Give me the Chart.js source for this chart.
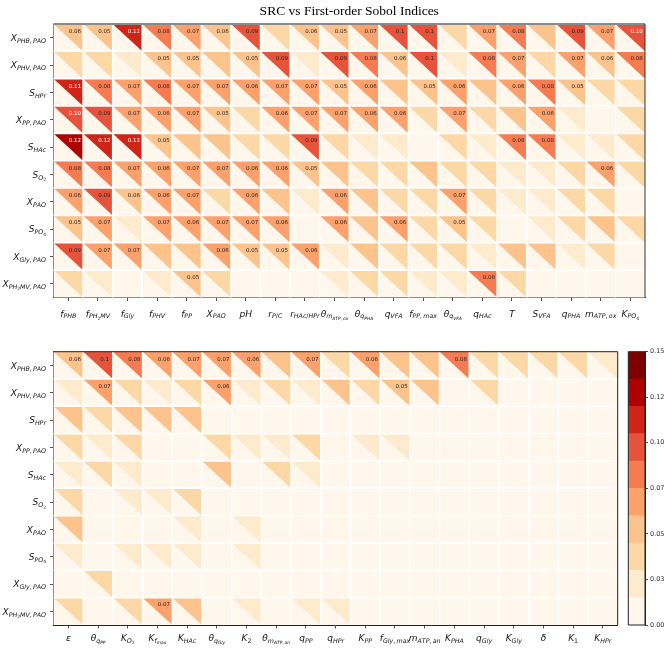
<!DOCTYPE html>
<html><head><meta charset="utf-8">
<script src="https://cdn.jsdelivr.net/npm/chart.js@4.4.1/dist/chart.umd.min.js"></script>
<style>
html,body{margin:0;padding:0;background:#fff;}
body{width:669px;height:649px;position:relative;overflow:hidden;}
canvas{position:absolute;}
</style></head>
<body>
<canvas id="cTop" width="669" height="330" style="left:0;top:0"></canvas>
<canvas id="cBot" width="669" height="319" style="left:0;top:330px"></canvas>
<canvas id="cBar" width="69" height="319" style="left:600px;top:330px"></canvas>
<script>
// ---------------- DATA ----------------
const TITLE = 'SRC vs First-order Sobol Indices';
const ROWS = ['X_{PHB, PAO}','X_{PHV, PAO}','S_{HPr}','X_{PP, PAO}','S_{HAc}','S_{O_2}','X_{PAO}','S_{PO_4}','X_{Gly, PAO}','X_{PH_2MV, PAO}'];
const TOP_COLS = ['f_{PHB}','f_{PH_2MV}','f_{Gly}','f_{PHV}','f_{PP}','X_{PAO}','pH','r_{P/C}','r_{HAc/HPr}','θ_{m_{ATP, ox}}','θ_{q_{PHA}}','q_{VFA}','f_{PP, max}','θ_{q_{VFA}}','q_{HAc}','T','S_{VFA}','q_{PHA}','m_{ATP, ox}','K_{PO_4}'];
const BOT_COLS = ['ε','θ_{q_{PP}}','K_{O_2}','K_{f_{max}}','K_{HAc}','θ_{q_{Gly}}','K_2','θ_{m_{ATP, an}}','q_{PP}','q_{HPr}','K_{PP}','f_{Gly, max}','m_{ATP, an}','K_{PHA}','q_{Gly}','K_{Gly}','δ','K_1','K_{HPr}'];

// SRC (upper-right triangles), one row per output variable
const TOP_SRC = [
 [0.058,0.052,0.118,0.082,0.072,0.058,0.092,0.038,0.058,0.052,0.072,0.098,0.098,0.042,0.070,0.082,0.046,0.092,0.070,0.101],
 [0.035,0.035,0.022,0.052,0.052,0.045,0.052,0.092,0.020,0.094,0.080,0.058,0.098,0.020,0.080,0.070,0.035,0.070,0.058,0.080],
 [0.110,0.080,0.070,0.080,0.072,0.070,0.060,0.070,0.070,0.052,0.060,0.046,0.052,0.060,0.045,0.060,0.080,0.052,0.040,0.040],
 [0.101,0.094,0.070,0.062,0.070,0.052,0.035,0.060,0.070,0.070,0.060,0.060,0.030,0.070,0.035,0.045,0.062,0.025,0.010,0.035],
 [0.124,0.119,0.119,0.052,0.045,0.045,0.030,0.042,0.092,0.030,0.015,0.025,0.012,0.035,0.020,0.082,0.082,0.025,0.025,0.035],
 [0.082,0.080,0.070,0.060,0.070,0.070,0.060,0.060,0.052,0.045,0.030,0.035,0.045,0.035,0.040,0.025,0.025,0.035,0.060,0.030],
 [0.060,0.092,0.058,0.060,0.065,0.035,0.060,0.045,0.020,0.060,0.045,0.035,0.040,0.065,0.040,0.015,0.025,0.040,0.035,0.010],
 [0.052,0.070,0.025,0.065,0.062,0.070,0.070,0.062,0.010,0.060,0.045,0.060,0.035,0.054,0.035,0.012,0.025,0.035,0.045,0.030],
 [0.090,0.070,0.070,0.045,0.045,0.060,0.052,0.052,0.060,0.025,0.045,0.035,0.030,0.042,0.025,0.045,0.048,0.025,0.040,0.010],
 [0.040,0.025,0.010,0.020,0.052,0.040,0.010,0.010,0.010,0.015,0.040,0.042,0.025,0.025,0.082,0.035,0.010,0.010,0.010,0.010]
];
// First-order Sobol indices (lower-left triangles)
const TOP_SOBOL = [
 [0.004,0.003,0.006,0.005,0.004,0.003,0.007,0.012,0.004,0.003,0.005,0.008,0.009,0.011,0.006,0.007,0.010,0.008,0.005,0.009],
 [0.003,0.004,0.013,0.003,0.004,0.005,0.003,0.007,0.010,0.008,0.006,0.004,0.009,0.013,0.007,0.006,0.005,0.006,0.004,0.007],
 [0.010,0.006,0.005,0.007,0.006,0.005,0.004,0.005,0.006,0.003,0.004,0.005,0.003,0.004,0.006,0.004,0.007,0.003,0.005,0.006],
 [0.009,0.008,0.005,0.004,0.005,0.003,0.006,0.004,0.005,0.005,0.004,0.004,0.008,0.005,0.006,0.005,0.004,0.012,0.006,0.005],
 [0.011,0.010,0.010,0.003,0.005,0.005,0.006,0.004,0.008,0.006,0.007,0.005,0.008,0.004,0.009,0.007,0.007,0.010,0.009,0.006],
 [0.007,0.007,0.006,0.005,0.006,0.006,0.005,0.005,0.004,0.005,0.008,0.006,0.004,0.006,0.005,0.009,0.008,0.006,0.005,0.007],
 [0.005,0.008,0.005,0.005,0.005,0.006,0.005,0.004,0.009,0.005,0.004,0.006,0.005,0.005,0.006,0.010,0.008,0.005,0.006,0.009],
 [0.004,0.006,0.013,0.005,0.005,0.006,0.006,0.005,0.010,0.005,0.004,0.005,0.006,0.004,0.006,0.010,0.008,0.006,0.004,0.007],
 [0.008,0.006,0.006,0.004,0.004,0.005,0.004,0.004,0.005,0.008,0.004,0.006,0.007,0.004,0.008,0.004,0.004,0.008,0.005,0.010],
 [0.004,0.006,0.010,0.009,0.004,0.005,0.010,0.010,0.011,0.009,0.005,0.004,0.008,0.008,0.007,0.005,0.010,0.011,0.010,0.011]
];
const BOT_SRC = [
 [0.058,0.0995,0.084,0.060,0.072,0.072,0.060,0.045,0.072,0.042,0.062,0.045,0.045,0.084,0.040,0.042,0.032,0.035,0.020],
 [0.020,0.074,0.035,0.028,0.040,0.062,0.028,0.040,0.015,0.045,0.040,0.052,0.045,0.010,0.042,0.008,0.006,0.006,0.005],
 [0.045,0.035,0.045,0.045,0.045,0.008,0.006,0.006,0.005,0.005,0.004,0.004,0.005,0.004,0.004,0.003,0.004,0.003,0.003],
 [0.040,0.025,0.035,0.010,0.012,0.035,0.025,0.025,0.035,0.012,0.022,0.022,0.006,0.005,0.004,0.004,0.003,0.004,0.003],
 [0.025,0.040,0.020,0.010,0.010,0.045,0.010,0.032,0.020,0.008,0.006,0.005,0.004,0.005,0.004,0.004,0.003,0.003,0.004],
 [0.040,0.008,0.022,0.025,0.042,0.006,0.008,0.006,0.005,0.005,0.004,0.004,0.003,0.004,0.004,0.003,0.003,0.004,0.003],
 [0.045,0.010,0.012,0.010,0.025,0.008,0.025,0.006,0.005,0.004,0.004,0.003,0.004,0.003,0.004,0.003,0.004,0.003,0.003],
 [0.025,0.008,0.020,0.018,0.025,0.006,0.025,0.005,0.005,0.004,0.003,0.004,0.003,0.004,0.003,0.003,0.004,0.003,0.003],
 [0.012,0.040,0.008,0.006,0.008,0.005,0.006,0.005,0.004,0.004,0.003,0.003,0.004,0.003,0.003,0.004,0.003,0.003,0.004],
 [0.040,0.010,0.040,0.074,0.045,0.008,0.025,0.008,0.025,0.025,0.006,0.005,0.004,0.004,0.003,0.004,0.003,0.003,0.004]
];
const BOT_SOBOL = [
 [0.004,0.006,0.005,0.004,0.005,0.005,0.004,0.003,0.005,0.004,0.004,0.003,0.003,0.006,0.003,0.003,0.002,0.003,0.002],
 [0.003,0.005,0.003,0.003,0.003,0.004,0.003,0.003,0.002,0.003,0.003,0.004,0.003,0.002,0.003,0.002,0.002,0.002,0.002],
 [0.004,0.003,0.004,0.004,0.004,0.002,0.002,0.002,0.002,0.002,0.002,0.002,0.002,0.002,0.002,0.002,0.002,0.002,0.002],
 [0.003,0.003,0.003,0.002,0.002,0.003,0.003,0.003,0.003,0.002,0.002,0.002,0.002,0.002,0.002,0.002,0.002,0.002,0.002],
 [0.003,0.003,0.002,0.002,0.002,0.004,0.002,0.003,0.002,0.002,0.002,0.002,0.002,0.002,0.002,0.002,0.002,0.002,0.002],
 [0.003,0.002,0.002,0.003,0.003,0.002,0.002,0.002,0.002,0.002,0.002,0.002,0.002,0.002,0.002,0.002,0.002,0.002,0.002],
 [0.004,0.002,0.002,0.002,0.003,0.002,0.003,0.002,0.002,0.002,0.002,0.002,0.002,0.002,0.002,0.002,0.002,0.002,0.002],
 [0.003,0.002,0.002,0.002,0.003,0.002,0.003,0.002,0.002,0.002,0.002,0.002,0.002,0.002,0.002,0.002,0.002,0.002,0.002],
 [0.002,0.003,0.002,0.002,0.002,0.002,0.002,0.002,0.002,0.002,0.002,0.002,0.002,0.002,0.002,0.002,0.002,0.002,0.002],
 [0.003,0.002,0.003,0.005,0.003,0.002,0.003,0.002,0.003,0.003,0.002,0.002,0.002,0.002,0.002,0.002,0.002,0.002,0.002]
];
const CB_TICKS = [0, 0.025, 0.05, 0.075, 0.1, 0.125, 0.15];
const CB_TICK_LABELS = ['0.00','0.03','0.05','0.07','0.10','0.12','0.15'];
const VMIN = 0, VMAX = 0.15, NBINS = 10;
const LABEL_MIN = 0.05;

// --------------- STYLE ----------------
const PALETTE = ['#fff7ec','#feeacc','#fdd8a7','#fdc38d','#fca16c','#f67b51','#e7533a','#cf2518','#ad0000','#7f0000'];
function colorFor(v){
  const b = Math.max(0, Math.min(NBINS-1, Math.floor((v - VMIN) / ((VMAX - VMIN) / NBINS))));
  return PALETTE[b];
}
function fmt(v){ return v >= 0.1 ? v.toFixed(2) : String(Number(v.toFixed(2))); }

// --------------- mini TeX renderer -------------
function parseTex(s){
  const out = []; let i = 0;
  function rec(level, inBrace){
    while (i < s.length){
      const c = s[i];
      if (c === '}'){ i++; if (inBrace) return; continue; }
      if (c === '_'){
        i++;
        if (s[i] === '{'){ i++; rec(level+1, true); }
        else { out.push({ch: s[i], level: level+1}); i++; }
        continue;
      }
      out.push({ch: c, level}); i++;
    }
  }
  rec(0, false);
  return out;
}
function drawTex(ctx, tex, x, baseline, align, B){
  const items = parseTex(tex).map(r => {
    const sz = B * Math.pow(0.7, r.level);
    const it = /[A-Za-z\u0370-\u03ff]/.test(r.ch);
    const font = (it ? 'italic ' : '') + sz.toFixed(2) + 'px "DejaVu Sans"';
    ctx.font = font;
    let w = ctx.measureText(r.ch).width;
    if (r.ch === ' ') w *= 0.6;
    return {ch: r.ch, level: r.level, font, w};
  });
  const total = items.reduce((a, b) => a + b.w, 0);
  let cx = align === 'center' ? x - total/2 : (align === 'right' ? x - total : x);
  ctx.textAlign = 'left'; ctx.textBaseline = 'alphabetic';
  items.forEach(it => {
    ctx.font = it.font;
    let dy = 0;
    for (let k = 0; k < it.level; k++) dy += 0.22 * B * Math.pow(0.7, k);
    ctx.fillText(it.ch, cx, baseline + dy);
    cx += it.w;
  });
}

// --------------- plugins ----------------
const heatPlugin = {
  id: 'heat',
  beforeDatasetsDraw(chart){
    const ctx = chart.ctx, xs = chart.scales.x, ys = chart.scales.y, ca = chart.chartArea;
    const pts = chart.data.datasets[0].data;
    ctx.save();
    pts.forEach(p => {
      const x0 = xs.getPixelForValue(p.x - 0.5), x1 = xs.getPixelForValue(p.x + 0.5);
      const y0 = ys.getPixelForValue(p.y - 0.5), y1 = ys.getPixelForValue(p.y + 0.5);
      ctx.fillStyle = colorFor(p.sobol);
      ctx.fillRect(x0, y0, x1 - x0, y1 - y0);
      ctx.beginPath(); ctx.moveTo(x0, y0); ctx.lineTo(x1, y0); ctx.lineTo(x1, y1); ctx.closePath();
      ctx.fillStyle = colorFor(p.src); ctx.fill();
    });
    // white cell separators
    ctx.strokeStyle = '#ffffff'; ctx.lineWidth = 1.5;
    const nx = Math.round(xs.max - xs.min), ny = Math.round(ys.max - ys.min);
    for (let j = 1; j < nx; j++){
      const px = xs.getPixelForValue(j - 0.5);
      ctx.beginPath(); ctx.moveTo(px, ca.top); ctx.lineTo(px, ca.bottom); ctx.stroke();
    }
    for (let i = 1; i < ny; i++){
      const py = ys.getPixelForValue(i - 0.5);
      ctx.beginPath(); ctx.moveTo(ca.left, py); ctx.lineTo(ca.right, py); ctx.stroke();
    }
    // value labels for SRC
    ctx.font = '5.5px "DejaVu Sans"'; ctx.textAlign = 'center'; ctx.textBaseline = 'middle';
    pts.forEach(p => {
      if (p.src < LABEL_MIN) return;
      const x0 = xs.getPixelForValue(p.x - 0.5), x1 = xs.getPixelForValue(p.x + 0.5);
      const y0 = ys.getPixelForValue(p.y - 0.5), y1 = ys.getPixelForValue(p.y + 0.5);
      const w = x1 - x0, h = y1 - y0;
      ctx.fillStyle = p.src >= 0.1 ? '#ffffff' : '#262626';
      ctx.fillText(fmt(p.src), (x0 + x1)/2 + 0.22*w, (y0 + y1)/2 - 0.23*h);
    });
    ctx.restore();
  }
};
const framePlugin = {
  id: 'frame',
  afterDraw(chart, args, opts){
    const ctx = chart.ctx, ca = chart.chartArea;
    ctx.save();
    ctx.lineWidth = opts.topWidth || 1; ctx.strokeStyle = opts.topColor || '#222';
    ctx.beginPath(); ctx.moveTo(ca.left, ca.top); ctx.lineTo(ca.right, ca.top); ctx.stroke();
    ctx.lineWidth = 1; ctx.strokeStyle = opts.rightColor || '#222';
    ctx.beginPath(); ctx.moveTo(ca.right, ca.top); ctx.lineTo(ca.right, ca.bottom); ctx.stroke();
    if (opts.all){
      ctx.beginPath(); ctx.moveTo(ca.left, ca.top); ctx.lineTo(ca.left, ca.bottom); ctx.lineTo(ca.right, ca.bottom); ctx.stroke();
    }
    ctx.restore();
  }
};
const mathLabelsPlugin = {
  id: 'mathLabels',
  afterDraw(chart, args, opts){
    if (!opts || !opts.x) return;
    const ctx = chart.ctx, xs = chart.scales.x, ys = chart.scales.y, ca = chart.chartArea;
    ctx.save(); ctx.fillStyle = '#111';
    opts.x.forEach((lab, j) => drawTex(ctx, lab, xs.getPixelForValue(j), ca.bottom + opts.xOff, 'center', opts.size));
    opts.y.forEach((lab, i) => drawTex(ctx, lab, ca.left - opts.yPad, ys.getPixelForValue(i) + opts.size*0.36, 'right', opts.size));
    if (opts.title){
      ctx.font = '13.5px "Liberation Serif", "Times New Roman", serif';
      ctx.fillStyle = '#000'; ctx.textAlign = 'center'; ctx.textBaseline = 'middle';
      ctx.fillText(opts.title, (ca.left + ca.right)/2, ca.top - 13);
    }
    ctx.restore();
  }
};

function buildPoints(src, sobol){
  const pts = [];
  src.forEach((row, i) => row.forEach((v, j) => pts.push({x: j, y: i, src: v, sobol: sobol[i][j]})));
  return pts;
}

function heatConfig(cols, src, sobol, opt){
  const n = cols.length;
  return {
    type: 'scatter',
    data: { datasets: [{ data: buildPoints(src, sobol), pointRadius: 0, pointHoverRadius: 0 }] },
    options: {
      responsive: false, animation: false, devicePixelRatio: 1,
      layout: { padding: { left: 0, right: opt.padRight, top: opt.padTop, bottom: 0 } },
      plugins: {
        legend: { display: false }, tooltip: { enabled: false }, title: { display: false },
        frame: { topColor: opt.topColor, topWidth: opt.topWidth, rightColor: opt.rightColor },
        mathLabels: { x: cols, y: ROWS, xOff: opt.xOff, yPad: 7.5, size: 9, title: opt.title ? TITLE : null }
      },
      scales: {
        x: { type: 'linear', min: -0.5, max: n - 0.5,
             afterBuildTicks: s => { s.ticks = cols.map((_, j) => ({ value: j })); },
             afterFit: s => { s.height = opt.xHeight; },
             ticks: { display: false },
             grid: { display: true, drawOnChartArea: false, drawTicks: true, tickLength: 3.5, color: '#222', lineWidth: 0.8 },
             border: { display: true, color: '#222', width: 1 } },
        y: { type: 'linear', min: -0.5, max: ROWS.length - 0.5, reverse: true,
             afterBuildTicks: s => { s.ticks = ROWS.map((_, i) => ({ value: i })); },
             afterFit: s => { s.width = 53.5; },
             ticks: { display: false },
             grid: { display: true, drawOnChartArea: false, drawTicks: true, tickLength: 3.5, color: '#222', lineWidth: 0.8 },
             border: { display: true, color: '#222', width: 1 } }
      }
    },
    plugins: [heatPlugin, framePlugin, mathLabelsPlugin]
  };
}

new Chart(document.getElementById('cTop'), heatConfig(TOP_COLS, TOP_SRC, TOP_SOBOL,
  { title: true, padTop: 24, padRight: 24, xHeight: 32.5, xOff: 19, topColor: '#8a8a8a', topWidth: 2, rightColor: '#333' }));
new Chart(document.getElementById('cBot'), heatConfig(BOT_COLS, BOT_SRC, BOT_SOBOL,
  { title: false, padTop: 21.7, padRight: 51.3, xHeight: 24, xOff: 16, topColor: '#222', topWidth: 1, rightColor: '#222' }));

// ---------------- colorbar ----------------
const binWidth = (VMAX - VMIN) / NBINS;
new Chart(document.getElementById('cBar'), {
  type: 'bar',
  data: { labels: ['cb'], datasets: PALETTE.map(c => ({ data: [binWidth], backgroundColor: c, borderWidth: 0, barPercentage: 1, categoryPercentage: 1 })) },
  options: {
    responsive: false, animation: false, devicePixelRatio: 1,
    layout: { padding: { left: 28.3, right: 0, top: 21.7, bottom: 24 } },
    plugins: { legend: { display: false }, tooltip: { enabled: false }, frame: { all: true, topColor: '#222', rightColor: '#222' } },
    scales: {
      x: { display: false, stacked: true },
      y: { position: 'right', stacked: true, min: VMIN, max: VMAX,
           afterBuildTicks: s => { s.ticks = CB_TICKS.map(v => ({ value: v })); },
           afterFit: s => { s.width = 24; },
           ticks: { color: '#333', font: { family: '"DejaVu Sans"', size: 6.5 }, padding: 2,
                    callback: (v, i) => CB_TICK_LABELS[i] },
           grid: { display: true, drawOnChartArea: false, drawTicks: true, tickLength: 3, color: '#222', lineWidth: 0.8 },
           border: { display: true, color: '#222', width: 1 } }
    }
  },
  plugins: [framePlugin]
});
</script>
</body></html>
